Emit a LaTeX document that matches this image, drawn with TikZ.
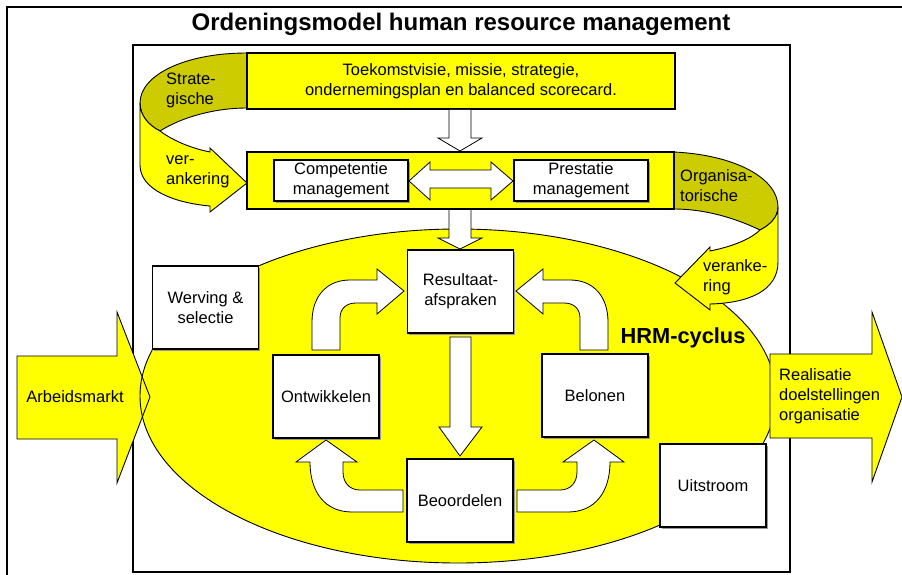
\documentclass[tikz,border=0pt]{standalone}
\usepackage{fontspec}
\setmainfont{Liberation Sans}
\usepackage{tikz}
\usetikzlibrary{shadows}

\definecolor{hrmyellow}{RGB}{255,255,0}
\definecolor{hrmolive}{RGB}{204,204,0}

\begin{document}
\begin{tikzpicture}[x=1pt, y=-1pt,
  lbl/.style={font=\fontsize{16.5}{20}\selectfont, align=center, inner sep=0pt},
  shadowed/.style={drop shadow={shadow xshift=1.5pt, shadow yshift=-1.5pt, fill=black!40, opacity=1}},
  box/.style={lbl, draw, line width=1.2pt, fill=white, minimum width=106pt, minimum height=83pt, shadowed},
  wide/.style={box, line width=1.6pt, minimum width=134pt, minimum height=41pt},
  band/.style={lbl, draw, line width=2pt, fill=hrmyellow},
  ribbon/.style={draw, line width=0.9pt, fill=hrmyellow},
  block/.style={draw, line width=0.8pt, fill=white}]
  \useasboundingbox (0,0) rectangle (902,575);
  \clip (0,0) rectangle (902,575);
  % Frames
  \draw[line width=2pt] (7,7) rectangle (915,590);
  \draw[line width=2pt] (133,45) rectangle (790,572);
  \node[font=\fontsize{24}{28}\selectfont\bfseries] (titel) at (461,24) {Ordeningsmodel human resource management};
  % HRM-cyclus
  \fill[hrmyellow] (458,396) ellipse [x radius=318, y radius=167];
  \path[ribbon] (17,356) -- (117,356) -- (117,312) -- (150,397) -- (117,483) -- (117,439) -- (17,439) -- cycle;
  \draw[line width=0.9pt] (458,396) ellipse [x radius=318, y radius=167];
  \node[lbl] (arbeid) at (75,397) {Arbeidsmarkt};
  % Strategische verankering
  \path[ribbon, fill=hrmolive] (247,53) .. controls (185,53) and (140,75) .. (140,103)
    .. controls (140,115) and (148,125) .. (160,131) .. controls (182,117) and (215,108) .. (247,108) -- cycle;
  \path[ribbon] (140,103) -- (140,165) .. controls (140,190) and (175,203) .. (210,206) -- (210,212)
    -- (247,183) -- (210,148) -- (210,152) .. controls (190,148) and (172,140) .. (160,131)
    .. controls (148,125) and (140,115) .. (140,103) -- cycle;
  \node[lbl, align=left, anchor=west] (strat) at (166,90.5) {Strate-\\gische};
  \node[lbl, align=left, anchor=west] (veran) at (166,171.5) {ver-\\ankering};
  % Organisatorische verankering
  \path[ribbon, fill=hrmolive] (674,152) .. controls (735,155) and (778,178) .. (778,207)
    .. controls (778,217) and (770,225) .. (760,230) .. controls (735,218) and (705,209) .. (674,209) -- cycle;
  \path[ribbon] (778,207) -- (778,262) .. controls (778,290) and (750,303) .. (710,304) -- (710,310)
    -- (675,283) -- (710,247) -- (710,251) .. controls (735,246) and (752,238) .. (760,230)
    .. controls (770,225) and (778,217) .. (778,207) -- cycle;
  \node[lbl, align=left, anchor=west] (organ) at (680,185.5) {Organisa-\\torische};
  \node[lbl, align=left, anchor=west] (veranke) at (703,277) {veranke-\\ring};
  % Strategie en management
  \node[band, minimum width=428pt, minimum height=56pt] (visie) at (461,81)
    {Toekomstvisie, missie, strategie,\\ondernemingsplan en balanced scorecard.};
  \node[band, minimum width=427pt, minimum height=57pt] (kader) at (460.5,180.5) {};
  \node[wide] (competentie) at (341,180.5) {Competentie\\management};
  \node[wide] (prestatie) at (581,180.5) {Prestatie\\management};
  \path[block] (409,181) -- (430,162) -- (430,170) -- (491,170) -- (491,162) -- (513,181)
    -- (491,200) -- (491,188) -- (430,188) -- (430,200) -- cycle;
  \path[block] (449,110) -- (449,138) -- (438,138) -- (460,151) -- (482,138) -- (471,138) -- (471,110);
  \path[block] (449,210) -- (449,238) -- (438,238) -- (460,249) -- (482,238) -- (471,238) -- (471,210);
  % Cyclus
  \node[box] (resultaat) at (460.5,291.5) {Resultaat-\\afspraken};
  \node[box] (werving) at (205.5,307.5) {Werving \&\\selectie};
  \node[box] (ontwikkelen) at (326,396.5) {Ontwikkelen};
  \node[box] (belonen) at (595,395.5) {Belonen};
  \node[box] (beoordelen) at (460,500.5) {Beoordelen};
  \node[box] (uitstroom) at (713,485.5) {Uitstroom};
  \path[block] (450,337) -- (450,427) -- (439,427) -- (460,456) -- (482,427) -- (471,427) -- (471,337) -- cycle;
  \foreach \s in {1,-1}
  {
    \begin{scope}[shift={(460-460*\s,0)}, xscale=\s]
      \path[block] (312,350) -- (312,322) .. controls (312,297) and (326,280) .. (350,280) -- (377,280)
        -- (377,269) -- (404,291) -- (377,314) -- (377,303) -- (356,303)
        .. controls (346,303) and (340,309) .. (340,318) -- (340,350) -- cycle;
      \path[block] (403,490) -- (360,490) .. controls (349,490) and (343,482) .. (343,472) -- (343,462)
        -- (357,462) -- (326,440) -- (296,462) -- (310,462)
        .. controls (310,492) and (325,512) .. (352,512) -- (403,512) -- cycle;
    \end{scope}
  }
  \node[font=\fontsize{21.8}{26}\selectfont\bfseries] (cyclus) at (683,338) {HRM-cyclus};
  % Realisatie
  \path[ribbon] (770,354) -- (872,354) -- (872,312) -- (902,397) -- (872,482) -- (872,438) -- (770,438) -- cycle;
  \node[lbl, align=left, anchor=west] (realisatie) at (779,396) {Realisatie\\doelstellingen\\organisatie};
\end{tikzpicture}
\end{document}
